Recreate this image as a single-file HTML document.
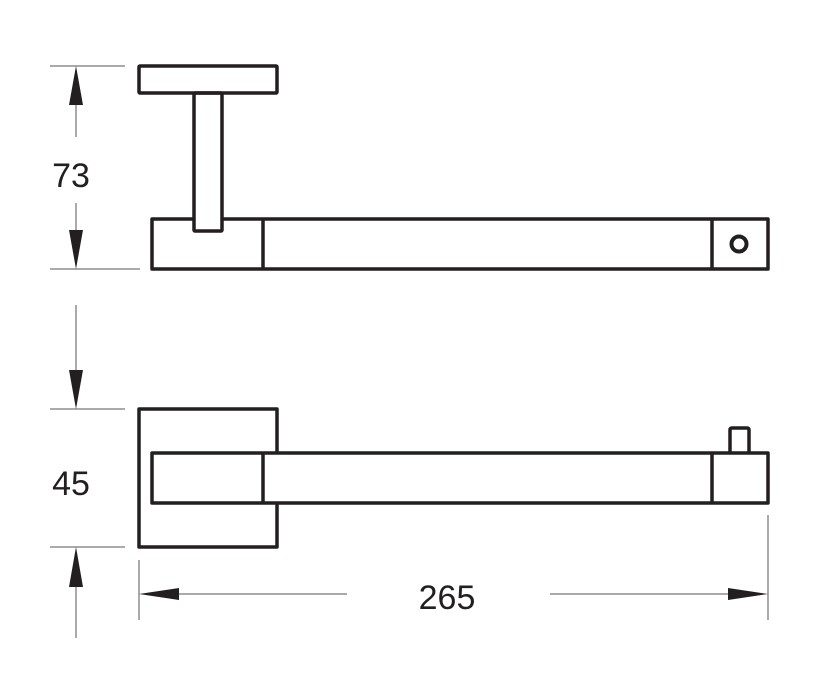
<!DOCTYPE html>
<html><head><style>body{margin:0;background:#fff}</style></head><body>
<svg width="813" height="677" xmlns="http://www.w3.org/2000/svg">
<g fill="none" stroke="#231f20" stroke-width="3.5" stroke-linejoin="round">
<rect x="139" y="66" width="138" height="27" rx="1"/>
<rect x="194" y="93" width="28" height="138" rx="1"/>
<path d="M194 219H152V269H768V219H222"/>
<line x1="263" y1="219" x2="263" y2="269"/>
<line x1="712" y1="219" x2="712" y2="269"/>
<circle cx="739" cy="244" r="7.5" stroke-width="4"/>
<path d="M277 453V409H139V547H277V503"/>
<rect x="152" y="453" width="616" height="50"/>
<line x1="263" y1="453" x2="263" y2="503"/>
<line x1="712" y1="453" x2="712" y2="503"/>
<path d="M730 453V430Q730 428 732 428H747Q749 428 749 430V453"/>
</g>
<g stroke="#555" stroke-width="1" fill="none">
<line x1="50" y1="66" x2="125" y2="66"/>
<line x1="50" y1="269" x2="140" y2="269"/>
<line x1="76" y1="100" x2="76" y2="137"/>
<line x1="76" y1="203" x2="76" y2="240"/>
<line x1="50" y1="409" x2="125" y2="409"/>
<line x1="50" y1="547" x2="125" y2="547"/>
<line x1="76" y1="305" x2="76" y2="380"/>
<line x1="76" y1="575" x2="76" y2="638"/>
<line x1="139" y1="560" x2="139" y2="620"/>
<line x1="768" y1="515" x2="768" y2="620"/>
<line x1="170" y1="594" x2="347" y2="594"/>
<line x1="550" y1="594" x2="740" y2="594"/>
</g>
<g fill="#231f20">
<polygon points="76,66 69,105 83,105"/>
<polygon points="76,269 69,230 83,230"/>
<polygon points="76,409 69,370 83,370"/>
<polygon points="76,547 69,587 83,587"/>
<polygon points="139,594 179,588 179,600"/>
<polygon points="768,594 728,588 728,600"/>
</g>
<g font-family="Liberation Sans, sans-serif" font-size="34" fill="#231f20" text-anchor="middle">
<text x="71" y="187">73</text>
<text x="71" y="495">45</text>
<text x="447" y="609">265</text>
</g>
</svg>
</body></html>
